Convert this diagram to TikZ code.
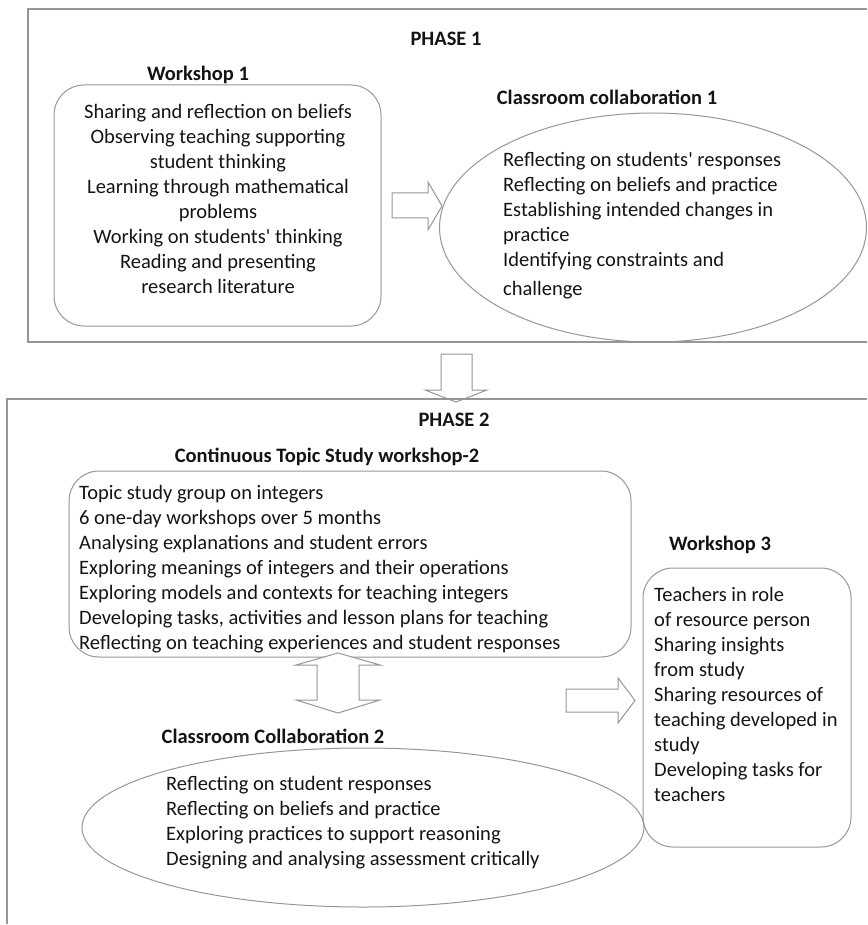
\documentclass[tikz,border=0pt]{standalone}
\usepackage{fontspec}
\setmainfont{Carlito}[Ligatures=TeXOff]
\usetikzlibrary{shapes.geometric}
\definecolor{edge}{RGB}{150,150,150}
\definecolor{ink}{RGB}{20,20,20}
\tikzset{
  frame/.style={draw=edge, line width=1.2pt},
  card/.style={draw=edge, line width=1pt, rounded corners=30pt},
  oval/.style={draw=edge, line width=1pt, ellipse},
  blockarrow/.style={draw=edge, line width=1pt, fill=white},
  body/.style={font=\fontsize{20.5}{25}\selectfont, text=ink, inner sep=0pt},
  heading/.style={font=\fontsize{20.5}{25}\selectfont\bfseries, text=ink, inner sep=0pt},
}
\begin{document}
\begin{tikzpicture}[x=1pt,y=-1pt]
\useasboundingbox (0,0) rectangle (867,925);

% ---------- Phase 1 ----------
\draw[frame] (867,9) -- (28,9) -- (28,342) -- (867,342);
\node[heading] (p1) at (446,39) {PHASE 1};

\node[heading] (w1t) at (198,75) {Workshop 1};
\draw[card] (54,85) rectangle (381,326);
\node[body, align=center] (w1) at (218,199) {Sharing and reflection on beliefs\\
Observing teaching supporting\\ student thinking\\ Learning through mathematical\\
problems\\ Working on students' thinking\\ Reading and presenting\\ research literature};

\node[heading] (c1t) at (607,97) {Classroom collaboration 1};
\node[oval, minimum width=427pt, minimum height=229pt] (c1o) at (653,227.5) {};
\node[body, align=left, anchor=north west] (c1) at (503,152) {Reflecting on students' responses\\
Reflecting on beliefs and practice\\ Establishing intended changes in\\ practice\\
Identifying constraints and\\[4pt] challenge};

% arrow from workshop 1 to classroom collaboration 1
\draw[blockarrow] (392,193) -- (428,193) -- (428,182) -- (442,206) -- (428,230)
  -- (428,218) -- (392,218) -- cycle;

% arrow from phase 1 down to phase 2
\draw[blockarrow] (441,354) -- (472,354) -- (472,390) -- (487,390) -- (456,402)
  -- (425,390) -- (441,390) -- cycle;

% ---------- Phase 2 ----------
\draw[frame] (7,924) -- (7,399) -- (867,399);
\node[heading] (p2) at (454,420) {PHASE 2};

\node[heading] (w2t) at (327,457) {Continuous Topic Study workshop-2};
\draw[card] (69,471) rectangle (631,657);
\node[body, align=left, anchor=north west] (w2) at (79,485) {Topic study group on integers\\
6 one-day workshops over 5 months\\ Analysing explanations and student errors\\
Exploring meanings of integers and their operations\\
Exploring models and contexts for teaching integers\\
Developing tasks, activities and lesson plans for teaching\\
Reflecting on teaching experiences and student responses};

% two-way arrow between the topic study and classroom collaboration 2
\draw[blockarrow] (338,653) -- (380,665) -- (359,665) -- (359,700) -- (380,700)
  -- (338,713) -- (296,700) -- (317,700) -- (317,665) -- (296,665) -- cycle;

\node[heading] (c2t) at (273,736) {Classroom Collaboration 2};
\node[oval, minimum width=562pt, minimum height=159pt] (c2o) at (363,827.5) {};
\node[body, align=left, anchor=north west] (c2) at (166,776) {Reflecting on student responses\\
Reflecting on beliefs and practice\\ Exploring practices to support reasoning\\
Designing and analysing assessment critically};

% arrow towards workshop 3
\draw[blockarrow] (566,689) -- (618,689) -- (618,678) -- (635,700.5) -- (618,723)
  -- (618,712) -- (566,712) -- cycle;

\node[heading] (w3t) at (720,545) {Workshop 3};
\draw[card] (643,568) rectangle (851,847);
\node[body, align=left, anchor=north west] (w3) at (654,587) {Teachers in role\\
of resource person\\ Sharing insights\\ from study\\ Sharing resources of\\
teaching developed in\\ study\\ Developing tasks for\\ teachers};
\end{tikzpicture}
\end{document}
